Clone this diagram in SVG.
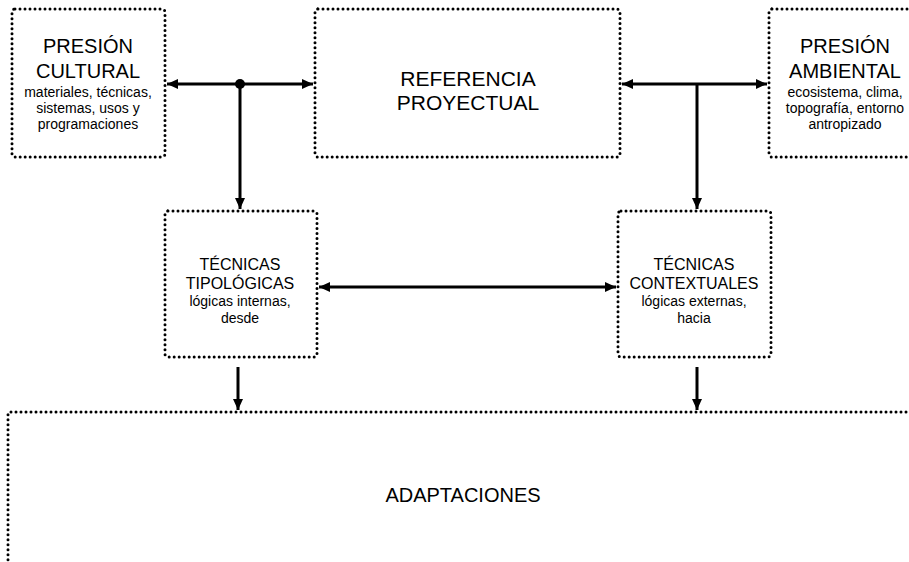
<svg xmlns="http://www.w3.org/2000/svg" width="909" height="562" viewBox="0 0 909 562">
<style>
.box{fill:#fff;stroke:#000;stroke-width:3;stroke-dasharray:0 5;stroke-linecap:round}
.t{font-family:"Liberation Sans",Arial,sans-serif;fill:#000;text-anchor:middle}
.big{font-size:20px}
.mid{font-size:16px}
.sm{font-size:14px}
.c{fill:none;stroke:#000;stroke-width:3}
</style>
<defs>
<marker id="ah" markerUnits="userSpaceOnUse" markerWidth="12" markerHeight="10" refX="11" refY="5" orient="auto-start-reverse">
<path d="M0,0 L11,5 L0,10 Z" fill="#000"/>
</marker>
</defs>
<rect width="909" height="562" fill="#fff"/>
<g id="presion-cultural">
<rect class="box" x="12" y="9" width="153" height="148" rx="3"/>
<text class="t big" x="88" y="53">PRESIÓN</text>
<text class="t big" x="88" y="78">CULTURAL</text>
<text class="t sm" x="88" y="97">materiales, técnicas,</text>
<text class="t sm" x="88" y="113">sistemas, usos y</text>
<text class="t sm" x="88" y="129">programaciones</text>
</g>
<g id="referencia">
<rect class="box" x="315" y="9" width="305" height="148" rx="3"/>
<text class="t big" x="468" y="86" style="font-size:21px">REFERENCIA</text>
<text class="t big" x="468" y="110" style="font-size:21px">PROYECTUAL</text>
</g>
<g id="presion-ambiental">
<rect class="box" x="769" y="9" width="160" height="148" rx="3"/>
<text class="t big" x="845" y="53">PRESIÓN</text>
<text class="t big" x="845" y="78">AMBIENTAL</text>
<text class="t sm" x="845" y="97">ecosistema, clima,</text>
<text class="t sm" x="845" y="113">topografía, entorno</text>
<text class="t sm" x="845" y="129">antropizado</text>
</g>
<g id="tipologicas">
<rect class="box" x="165" y="211" width="152" height="146" rx="3"/>
<text class="t mid" x="240" y="270">TÉCNICAS</text>
<text class="t mid" x="240" y="289">TIPOLÓGICAS</text>
<text class="t sm" x="240" y="306">lógicas internas,</text>
<text class="t sm" x="240" y="323">desde</text>
</g>
<g id="contextuales">
<rect class="box" x="618" y="211" width="153" height="146" rx="3"/>
<text class="t mid" x="694" y="270">TÉCNICAS</text>
<text class="t mid" x="694" y="289">CONTEXTUALES</text>
<text class="t sm" x="694" y="306">lógicas externas,</text>
<text class="t sm" x="694" y="323">hacia</text>
</g>
<g id="adaptaciones">
<rect class="box" x="8" y="412" width="920" height="170" rx="3"/>
<text class="t big" x="463" y="502">ADAPTACIONES</text>
</g>
<g id="connectors">
<line class="c" x1="167" y1="84" x2="313" y2="84" marker-start="url(#ah)" marker-end="url(#ah)"/>
<circle cx="240" cy="84" r="5" fill="#000"/>
<line class="c" x1="240" y1="84" x2="240" y2="209" marker-end="url(#ah)"/>
<line class="c" x1="622" y1="84" x2="767" y2="84" marker-start="url(#ah)" marker-end="url(#ah)"/>
<line class="c" x1="697" y1="84" x2="697" y2="209" marker-end="url(#ah)"/>
<line class="c" x1="319" y1="287" x2="616" y2="287" marker-start="url(#ah)" marker-end="url(#ah)"/>
<line class="c" x1="238" y1="367" x2="238" y2="410" marker-end="url(#ah)"/>
<line class="c" x1="697" y1="367" x2="697" y2="410" marker-end="url(#ah)"/>
</g>
</svg>
